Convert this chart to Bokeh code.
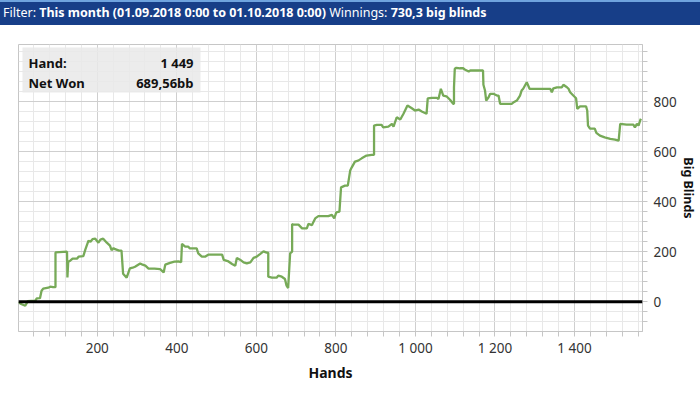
from bokeh.plotting import figure
from bokeh.models import FixedTicker, Span, BoxAnnotation, Label, Div
from bokeh.layouts import column
from bokeh.embed import file_html
from bokeh.resources import INLINE

# ---- data ----
hands = [2, 7, 19, 23, 25, 44, 48, 56, 60, 64, 77, 82, 89, 95, 95, 124, 125, 127, 132, 138,
         149, 153, 165, 170, 178, 183, 188, 195, 203, 208, 215, 224, 232, 236, 241, 245, 255, 261, 265, 274,
         282, 289, 295, 308, 314, 321, 329, 344, 358, 367, 371, 383, 394, 404, 411, 413, 421, 429, 433, 450,
         454, 463, 471, 479, 514, 518, 530, 539, 547, 551, 559, 568, 576, 585, 593, 601, 610, 618, 626, 630,
         630, 639, 651, 655, 664, 672, 676, 680, 685, 690, 690, 693, 706, 715, 727, 731, 740, 743, 748, 756,
         781, 790, 796, 801, 809, 813, 823, 830, 836, 840, 848, 856, 865, 877, 890, 896, 896, 903, 915, 919,
         932, 941, 945, 953, 962, 970, 980, 991, 999, 1008, 1016, 1028, 1031, 1041, 1054, 1058, 1064, 1070, 1078, 1087,
         1095, 1097, 1097, 1099, 1103, 1112, 1120, 1124, 1134, 1138, 1170, 1171, 1175, 1178, 1184, 1188, 1196, 1205, 1209, 1213,
         1242, 1246, 1255, 1263, 1267, 1271, 1280, 1287, 1297, 1339, 1343, 1347, 1356, 1368, 1372, 1381, 1385, 1389, 1397, 1404,
         1407, 1414, 1429, 1432, 1434, 1439, 1451, 1455, 1464, 1476, 1490, 1502, 1511, 1515, 1531, 1548, 1552, 1557, 1561, 1565,
         1567]
net_won = [0, -8, -16, -5, 2, 4, 13, 14, 44, 52, 56, 60, 58, 58, 197, 200, 97, 160, 164, 172,
           172, 180, 182, 208, 244, 240, 250, 252, 236, 248, 252, 236, 224, 206, 214, 210, 204, 204, 112, 96,
           133, 136, 140, 153, 148, 144, 132, 132, 130, 117, 148, 155, 160, 161, 158, 231, 220, 220, 213, 213,
           193, 180, 180, 188, 188, 167, 161, 151, 144, 175, 168, 157, 153, 157, 175, 180, 191, 201, 196, 196,
           100, 96, 96, 104, 100, 91, 64, 55, 193, 200, 311, 308, 308, 293, 293, 311, 306, 317, 333, 342,
           342, 347, 333, 357, 360, 457, 464, 464, 524, 537, 560, 564, 573, 584, 587, 587, 704, 707, 707, 697,
           700, 711, 700, 737, 728, 751, 784, 773, 764, 768, 760, 751, 813, 815, 815, 810, 851, 824, 821, 807,
           791, 791, 857, 931, 935, 933, 933, 928, 920, 924, 924, 867, 844, 804, 817, 831, 831, 824, 824, 791,
           791, 796, 804, 824, 844, 851, 877, 851, 851, 851, 837, 853, 857, 857, 867, 857, 851, 837, 824, 813,
           771, 781, 781, 764, 704, 692, 692, 675, 664, 657, 651, 648, 644, 711, 708, 708, 697, 711, 704, 724,
           731]

x_ticks = [200, 400, 600, 800, 1000, 1200, 1400]
x_tick_labels = ["200", "400", "600", "800", "1 000", "1 200", "1 400"]
x_minor = [40, 80, 120, 160, 240, 280, 320, 360, 440, 480, 520, 560, 640, 680, 720, 760,
           840, 880, 920, 960, 1040, 1080, 1120, 1160, 1240, 1280, 1320, 1360, 1440, 1480, 1520, 1560]
y_ticks = [0, 200, 400, 600, 800]
y_tick_labels = ["0", "200", "400", "600", "800"]
y_minor = [-80, -40, 40, 80, 120, 160, 240, 280, 320, 360, 440, 480, 520, 560,
           640, 680, 720, 760, 840, 880, 920, 960, 1000]

filter_label = "Filter:"
filter_value = "This month (01.09.2018 0:00 to 01.10.2018 0:00)"
winnings_label = "Winnings:"
winnings_value = "730,3 big blinds"
hand_label, hand_value = "Hand:", "1 449"
net_label, net_value = "Net Won", "689,56bb"
x_title = "Hands"
y_title = "Big Blinds"

FONT = "Noto Sans"

header = Div(
    text=f'{filter_label} <b>{filter_value}</b> {winnings_label} <b>{winnings_value}</b>',
    width=700, height=25, margin=(0, 0, 0, 0),
    styles={"background-color": "#173e88", "color": "white", "font-family": FONT,
            "font-size": "12.5px", "border-top": "2px solid #6fa3de", "box-sizing": "border-box",
            "padding-left": "3px", "line-height": "21px", "white-space": "nowrap"})

p = figure(width=700, height=371, x_range=(2, 1571), y_range=(-119, 1028),
           output_backend="svg", toolbar_location=None, y_axis_location="right",
           min_border_left=18, min_border_right=58, min_border_top=19, min_border_bottom=65)
p.background_fill_color = "white"
p.border_fill_color = "white"
p.outline_line_color = "#c6c6c6"

xt = FixedTicker(ticks=x_ticks, minor_ticks=x_minor)
yt = FixedTicker(ticks=y_ticks, minor_ticks=y_minor)
p.xaxis.ticker = xt
p.yaxis.ticker = yt
p.xgrid.ticker = xt
p.ygrid.ticker = yt
p.xaxis.major_label_overrides = {t: l for t, l in zip(x_ticks, x_tick_labels)}
p.yaxis.major_label_overrides = {t: l for t, l in zip(y_ticks, y_tick_labels)}

for g in (p.xgrid, p.ygrid):
    g.grid_line_color = "#cfcfcf"
    g.grid_line_width = 1
    g.minor_grid_line_color = "#e8e8e8"
    g.minor_grid_line_width = 1

for ax in (p.xaxis, p.yaxis):
    ax.axis_line_color = "#c6c6c6"
    ax.major_tick_line_color = "#c6c6c6"
    ax.minor_tick_line_color = "#c6c6c6"
    ax.major_tick_in = 0
    ax.minor_tick_in = 0
    ax.major_tick_out = 5
    ax.minor_tick_out = 5
    ax.major_label_text_font = FONT
    ax.major_label_text_font_size = "13.5px"
    ax.major_label_text_color = "#333333"
    ax.axis_label_text_font = FONT
    ax.axis_label_text_font_style = "bold"
    ax.axis_label_text_color = "#111111"

p.xaxis.major_label_standoff = 2
p.yaxis.major_label_standoff = 6
p.xaxis.axis_label = x_title
p.xaxis.axis_label_text_font_size = "14px"
p.xaxis.axis_label_standoff = 3
p.yaxis.axis_label = y_title
p.yaxis.axis_label_text_font_size = "12.5px"
p.yaxis.axis_label_standoff = 0

p.line(hands, net_won, line_color="#77aa58", line_width=2.3)

p.add_layout(Span(location=0, dimension="width", line_color="black", line_width=3))

p.add_layout(BoxAnnotation(left=4, right=182, top=284, bottom=239,
                           left_units="screen", right_units="screen",
                           top_units="screen", bottom_units="screen",
                           fill_color="#e9e9e9", fill_alpha=0.85, line_color=None))

def lab(x, y, text, align):
    return Label(x=x, y=y, x_units="screen", y_units="screen", text=text,
                 text_font=FONT, text_font_size="13px", text_font_style="bold",
                 text_color="#111111", text_align=align, text_baseline="middle")

p.add_layout(lab(10, 269, hand_label, "left"))
p.add_layout(lab(175, 269, hand_value, "right"))
p.add_layout(lab(10, 249, net_label, "left"))
p.add_layout(lab(175, 249, net_value, "right"))

layout = column(header, p, spacing=0)
open("out.html", "w").write(file_html(layout, INLINE))
